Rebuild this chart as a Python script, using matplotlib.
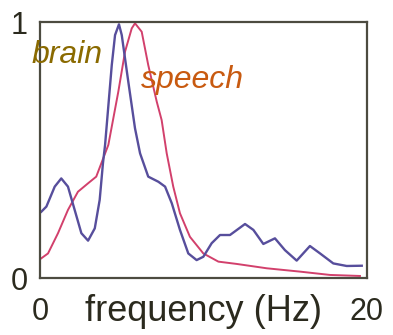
#!/usr/bin/env python3
import matplotlib
matplotlib.use("Agg")
import matplotlib.pyplot as plt

# values (frequency in Hz, normalised power)
brain_freq = [0.08, 0.39, 0.90, 1.30, 1.71, 2.12, 2.53, 2.94, 3.35, 3.65,
              3.85, 3.98, 4.39, 4.59, 4.83, 5.00, 5.40, 5.81, 6.12, 6.62,
              7.24, 7.65, 8.06, 8.56, 9.07, 9.58, 9.99, 10.50, 11.01, 11.62,
              12.54, 13.05, 13.66, 14.37, 14.98, 15.70, 16.51, 17.13, 17.94,
              18.76, 19.68]
brain_power = [0.259, 0.279, 0.357, 0.389, 0.357, 0.266, 0.175, 0.146, 0.194,
               0.305, 0.448, 0.52, 0.832, 0.949, 0.991, 0.949, 0.767, 0.585,
               0.487, 0.396, 0.376, 0.357, 0.292, 0.188, 0.096, 0.070, 0.083,
               0.136, 0.168, 0.168, 0.211, 0.188, 0.133, 0.155, 0.109, 0.068,
               0.125, 0.096, 0.057, 0.047, 0.048]

speech_freq = [0.08, 0.49, 1.10, 1.71, 2.32, 2.94, 3.44, 3.75, 4.18, 4.79,
               5.20, 5.61, 5.81, 6.22, 6.62, 7.14, 7.44, 7.75, 8.15, 8.56,
               9.17, 9.99, 10.91, 12.03, 13.87, 15.90, 17.74, 19.57]
speech_power = [0.077, 0.096, 0.175, 0.266, 0.337, 0.370, 0.396, 0.448, 0.52,
                0.728, 0.884, 0.975, 0.995, 0.962, 0.832, 0.689, 0.617, 0.487,
                0.357, 0.253, 0.161, 0.096, 0.064, 0.055, 0.038, 0.025, 0.012,
                0.008]

x_ticks = [0, 20]
y_ticks = [0, 1]

BRAIN_COLOR = "#574e9c"
SPEECH_COLOR = "#d2406c"
TEXT_COLOR = "#2b2a1e"
FRAME_COLOR = "#4c4b40"

plt.rcParams['font.family'] = ['Liberation Sans', 'DejaVu Sans']

fig = plt.figure(figsize=(3.93, 3.35), dpi=100)
ax = fig.add_axes([0.1018, 0.1701, 0.832, 0.7642])

ax.plot(speech_freq, speech_power, color=SPEECH_COLOR, lw=1.4)
ax.plot(brain_freq, brain_power, color=BRAIN_COLOR, lw=1.7)

ax.set_xlim(0, 20)
ax.set_ylim(0, 1)
for side in ax.spines.values():
    side.set_color(FRAME_COLOR)
    side.set_linewidth(1.6)

ax.set_xticks(x_ticks)
ax.set_xticklabels([str(t) for t in x_ticks])
ax.set_yticks(y_ticks)
ax.set_yticklabels([str(t) for t in y_ticks])
ax.tick_params(length=0, labelsize=22, colors=TEXT_COLOR)
ax.tick_params(axis="x", pad=14)
ax.tick_params(axis="y", pad=9)

ax.set_xlabel("frequency (Hz)", fontsize=26, color=TEXT_COLOR, labelpad=-24)

# curve labels; "brain" hangs over the left frame like in the reference
ax.text(-0.5, 0.84, "brain", fontsize=23, style="italic",
        color="#8a6a00", clip_on=False)
ax.text(6.2, 0.742, "speech", fontsize=23, style="italic",
        color="#c85a10", clip_on=False)

fig.savefig("out.png", dpi=100)
